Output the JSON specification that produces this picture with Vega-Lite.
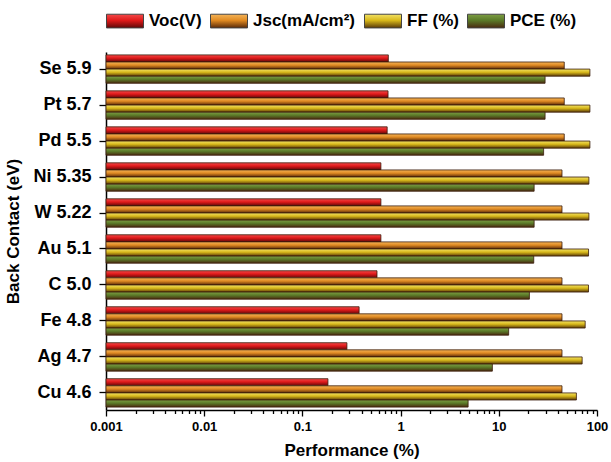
{
  "$schema": "https://vega.github.io/schema/vega-lite/v6.json",
  "width": 491,
  "height": 358,
  "autosize": {"type": "none"},
  "padding": {"left": 106, "top": 52, "right": 14, "bottom": 52},
  "background": "white",
  "config": {
    "font": "Liberation Sans",
    "view": {"stroke": null}
  },
  "data": {
    "values": [
      {"contact": "Se 5.9", "series": "Voc(V)", "value": 0.75},
      {"contact": "Se 5.9", "series": "Jsc(mA/cm²)", "value": 46.4},
      {"contact": "Se 5.9", "series": "FF (%)", "value": 84.7},
      {"contact": "Se 5.9", "series": "PCE (%)", "value": 29.6},
      {"contact": "Pt 5.7", "series": "Voc(V)", "value": 0.745},
      {"contact": "Pt 5.7", "series": "Jsc(mA/cm²)", "value": 46.4},
      {"contact": "Pt 5.7", "series": "FF (%)", "value": 84.7},
      {"contact": "Pt 5.7", "series": "PCE (%)", "value": 29.6},
      {"contact": "Pd 5.5", "series": "Voc(V)", "value": 0.73},
      {"contact": "Pd 5.5", "series": "Jsc(mA/cm²)", "value": 46.4},
      {"contact": "Pd 5.5", "series": "FF (%)", "value": 84.7},
      {"contact": "Pd 5.5", "series": "PCE (%)", "value": 28.6},
      {"contact": "Ni 5.35", "series": "Voc(V)", "value": 0.63},
      {"contact": "Ni 5.35", "series": "Jsc(mA/cm²)", "value": 44.0},
      {"contact": "Ni 5.35", "series": "FF (%)", "value": 82.7},
      {"contact": "Ni 5.35", "series": "PCE (%)", "value": 22.9},
      {"contact": "W 5.22", "series": "Voc(V)", "value": 0.63},
      {"contact": "W 5.22", "series": "Jsc(mA/cm²)", "value": 44.0},
      {"contact": "W 5.22", "series": "FF (%)", "value": 82.7},
      {"contact": "W 5.22", "series": "PCE (%)", "value": 22.9},
      {"contact": "Au 5.1", "series": "Voc(V)", "value": 0.63},
      {"contact": "Au 5.1", "series": "Jsc(mA/cm²)", "value": 44.0},
      {"contact": "Au 5.1", "series": "FF (%)", "value": 82.0},
      {"contact": "Au 5.1", "series": "PCE (%)", "value": 22.7},
      {"contact": "C 5.0", "series": "Voc(V)", "value": 0.575},
      {"contact": "C 5.0", "series": "Jsc(mA/cm²)", "value": 44.0},
      {"contact": "C 5.0", "series": "FF (%)", "value": 81.9},
      {"contact": "C 5.0", "series": "PCE (%)", "value": 20.5},
      {"contact": "Fe 4.8", "series": "Voc(V)", "value": 0.378},
      {"contact": "Fe 4.8", "series": "Jsc(mA/cm²)", "value": 44.0},
      {"contact": "Fe 4.8", "series": "FF (%)", "value": 75.8},
      {"contact": "Fe 4.8", "series": "PCE (%)", "value": 12.6},
      {"contact": "Ag 4.7", "series": "Voc(V)", "value": 0.284},
      {"contact": "Ag 4.7", "series": "Jsc(mA/cm²)", "value": 44.0},
      {"contact": "Ag 4.7", "series": "FF (%)", "value": 70.6},
      {"contact": "Ag 4.7", "series": "PCE (%)", "value": 8.6},
      {"contact": "Cu 4.6", "series": "Voc(V)", "value": 0.182},
      {"contact": "Cu 4.6", "series": "Jsc(mA/cm²)", "value": 44.0},
      {"contact": "Cu 4.6", "series": "FF (%)", "value": 61.7},
      {"contact": "Cu 4.6", "series": "PCE (%)", "value": 4.87}
    ]
  },
  "mark": {"type": "bar", "stroke": "#3a1c0a", "strokeWidth": 0.8},
  "encoding": {
    "y": {
      "field": "contact",
      "type": "nominal",
      "sort": ["Se 5.9", "Pt 5.7", "Pd 5.5", "Ni 5.35", "W 5.22", "Au 5.1", "C 5.0", "Fe 4.8", "Ag 4.7", "Cu 4.6"],
      "scale": {"paddingInner": 0.21, "paddingOuter": 0.08},
      "axis": {
        "title": "Back Contact (eV)",
        "titleFontSize": 17,
        "titleFontWeight": "bold",
        "titleColor": "black",
        "titlePadding": 10,
        "labelFontSize": 18,
        "labelFontWeight": "bold",
        "labelColor": "black",
        "labelPadding": 8,
        "tickSize": 7,
        "tickColor": "black",
        "tickWidth": 1.3,
        "domainColor": "black",
        "domainWidth": 1.5,
        "grid": false
      }
    },
    "yOffset": {
      "field": "series",
      "type": "nominal",
      "sort": ["Voc(V)", "Jsc(mA/cm²)", "FF (%)", "PCE (%)"],
      "scale": {"paddingInner": 0, "paddingOuter": 0}
    },
    "x": {
      "field": "value",
      "type": "quantitative",
      "stack": null,
      "scale": {"type": "log", "domain": [0.001, 100], "nice": false},
      "axis": {
        "title": "Performance (%)",
        "titleFontSize": 17,
        "titleFontWeight": "bold",
        "titleColor": "black",
        "titlePadding": 9,
        "values": [0.001, 0.002, 0.003, 0.004, 0.005, 0.006, 0.007, 0.008, 0.009,
                   0.01, 0.02, 0.03, 0.04, 0.05, 0.06, 0.07, 0.08, 0.09,
                   0.1, 0.2, 0.3, 0.4, 0.5, 0.6, 0.7, 0.8, 0.9,
                   1, 2, 3, 4, 5, 6, 7, 8, 9,
                   10, 20, 30, 40, 50, 60, 70, 80, 90, 100],
        "format": "~g",
        "labelExpr": "indexof([0.001, 0.01, 0.1, 1, 10, 100], datum.value) >= 0 ? datum.label : ''",
        "labelFontSize": 13,
        "labelFontWeight": "bold",
        "labelColor": "black",
        "labelPadding": 4,
        "labelFlush": false,
        "labelOverlap": false,
        "tickSize": {"condition": {"test": "indexof([0.001, 0.01, 0.1, 1, 10, 100], datum.value) >= 0", "value": 6}, "value": 3.5},
        "tickColor": "black",
        "tickWidth": 1.3,
        "domainColor": "black",
        "domainWidth": 1.5,
        "grid": false
      }
    },
    "x2": {"datum": 0.001},
    "color": {
      "field": "series",
      "type": "nominal",
      "sort": ["Voc(V)", "Jsc(mA/cm²)", "FF (%)", "PCE (%)"],
      "scale": {
        "domain": ["Voc(V)", "Jsc(mA/cm²)", "FF (%)", "PCE (%)"],
        "range": [
          {"expr": "{gradient: 'linear', x1: 0, y1: 0, x2: 0, y2: 1, stops: [{offset: 0, color: '#f24a4a'}, {offset: 0.45, color: '#e01a1a'}, {offset: 1, color: '#5e0808'}]}"},
          {"expr": "{gradient: 'linear', x1: 0, y1: 0, x2: 0, y2: 1, stops: [{offset: 0, color: '#f4b458'}, {offset: 0.45, color: '#e08a22'}, {offset: 1, color: '#5a2a08'}]}"},
          {"expr": "{gradient: 'linear', x1: 0, y1: 0, x2: 0, y2: 1, stops: [{offset: 0, color: '#f2e266'}, {offset: 0.45, color: '#d8b81a'}, {offset: 1, color: '#5a3a08'}]}"},
          {"expr": "{gradient: 'linear', x1: 0, y1: 0, x2: 0, y2: 1, stops: [{offset: 0, color: '#7e9e44'}, {offset: 0.45, color: '#5a7a28'}, {offset: 1, color: '#4a2a10'}]}"}
        ]
      },
      "legend": {
        "title": null,
        "orient": "none",
        "direction": "horizontal",
        "legendX": 0,
        "legendY": -50,
        "symbolType": "M-1,-0.37H1V0.37H-1Z",
        "symbolSize": 1369,
        "symbolStrokeColor": "#444",
        "symbolStrokeWidth": 1,
        "symbolOpacity": 1,
        "labelFontSize": 17,
        "labelFontWeight": "bold",
        "labelColor": "black",
        "labelOffset": 5,
        "columnPadding": 6,
        "labelLimit": 300
      }
    }
  }
}
